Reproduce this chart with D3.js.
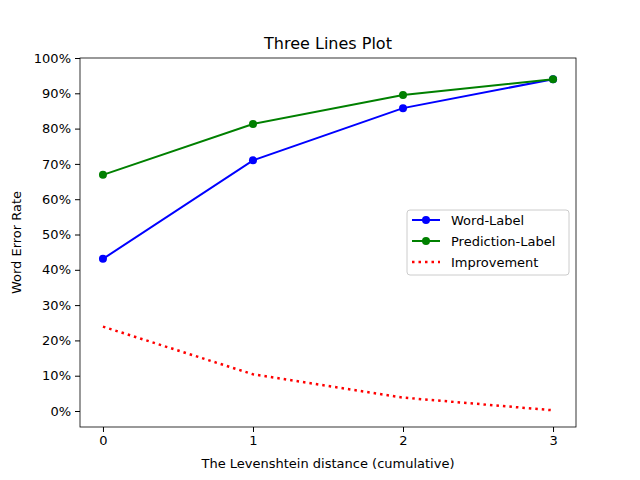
<!DOCTYPE html><html><head><script src="https://cdn.jsdelivr.net/npm/d3@7"></script>
<style>body{margin:0}text{font-family:"DejaVu Sans";}</style></head><body><script>
const xs=[0,1,2,3];
const wordLabel=[43.1,71.0,85.8,94.0];
const predLabel=[66.9,81.3,89.5,94.0];
const improvement=[23.9,10.4,3.8,0.2];
const yTicks=[0,10,20,30,40,50,60,70,80,90,100];
const svg=d3.select("body").append("svg").attr("width",640).attr("height",480).style("background","#fff");
const L=80,R=576,T=58,B=427;
const x=d3.scaleLinear().domain([-0.153,3.153]).range([L,R]);
const y=d3.scaleLinear().domain([-4.53,100]).range([B,T]);
svg.append("g").attr("transform",`translate(0,${B})`).call(d3.axisBottom(x).tickValues(xs).tickFormat(d3.format("d")).tickSizeOuter(0).tickSize(5).tickPadding(4)).call(g=>g.selectAll("text").style("font-size","13px").attr("fill","#000"));
svg.append("g").attr("transform",`translate(${L},0)`).call(d3.axisLeft(y).tickValues(yTicks).tickFormat(d=>d+"%").tickSizeOuter(0).tickSize(5).tickPadding(4)).call(g=>g.selectAll("text").style("font-size","13px").attr("fill","#000"));
svg.selectAll(".domain").remove();
svg.append("rect").attr("x",L).attr("y",T).attr("width",R-L).attr("height",B-T).attr("fill","none").attr("stroke","#000").attr("stroke-width",0.8);
const line=d3.line().x((d,i)=>x(xs[i])).y(d=>y(d));
[[wordLabel,"blue"],[predLabel,"green"]].forEach(([d,c])=>{
svg.append("path").attr("d",line(d)).attr("fill","none").attr("stroke",c).attr("stroke-width",2);
svg.selectAll(null).data(d).enter().append("circle").attr("cx",(v,i)=>x(xs[i])).attr("cy",v=>y(v)).attr("r",4).attr("fill",c);
});
svg.append("path").attr("d",line(improvement)).attr("fill","none").attr("stroke","red").attr("stroke-width",2.5).attr("stroke-dasharray","2.5,4");
svg.append("text").attr("x",(L+R)/2).attr("y",49).attr("text-anchor","middle").style("font-size","16px").text("Three Lines Plot");
svg.append("text").attr("x",(L+R)/2).attr("y",468).attr("text-anchor","middle").style("font-size","13px").text("The Levenshtein distance (cumulative)");
svg.append("text").attr("transform",`translate(21,${(T+B)/2}) rotate(-90)`).attr("text-anchor","middle").style("font-size","13px").text("Word Error Rate");
const lg=svg.append("g");
lg.append("rect").attr("x",407).attr("y",210).attr("width",162).attr("height",65).attr("rx",3).attr("fill","#fff").attr("stroke","#ccc");
[["Word-Label","blue",null],["Prediction-Label","green",null],["Improvement","red","2.5,4"]].forEach(([t,c,da],i)=>{
const yy=220+i*21;
const l=lg.append("line").attr("x1",412).attr("x2",440).attr("y1",yy).attr("y2",yy).attr("stroke",c).attr("stroke-width",2);
if(da)l.attr("stroke-dasharray",da).attr("stroke-width",2.5);else lg.append("circle").attr("cx",426).attr("cy",yy).attr("r",4).attr("fill",c);
lg.append("text").attr("x",451).attr("y",yy+5).style("font-size","13px").text(t);
});
</script></body></html>
